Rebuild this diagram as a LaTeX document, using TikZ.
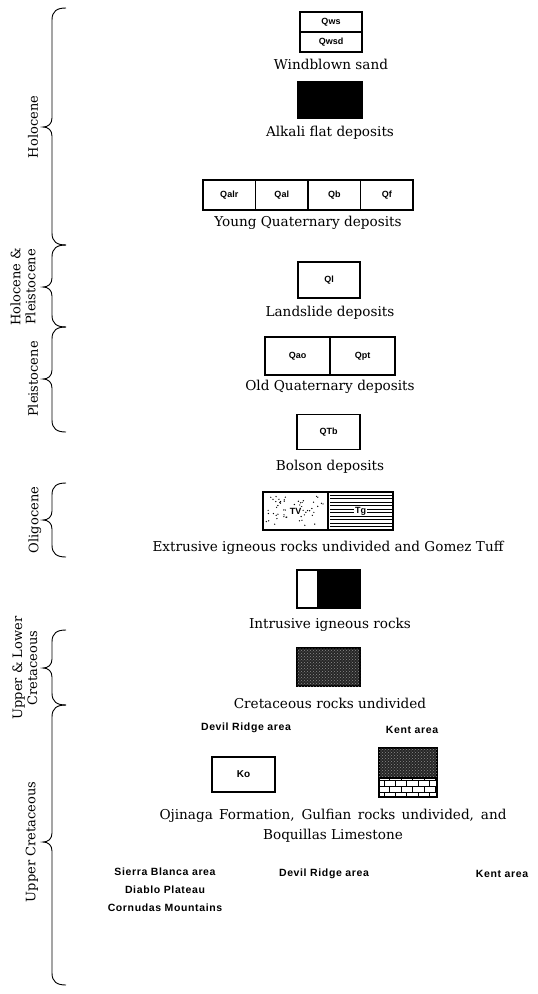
\documentclass[tikz,border=0pt]{standalone}
\usepackage{fontspec}
\setmainfont{DejaVu Serif}
\newfontfamily\lblsans[LetterSpace=6]{Liberation Sans}
\newfontfamily\symsans{Liberation Sans}
\usetikzlibrary{patterns}
\newcommand\gbrace[3]{% top, bottom, tip
  \draw[bline] (66,#1) .. controls (57,#1) and (52,{#1+3}) .. (52,{#1+12})
    -- (52,{#3-9}) .. controls (52,{#3-3}) and (48,#3) .. (43,#3)
    .. controls (48,#3) and (52,{#3+3}) .. (52,{#3+9})
    -- (52,{#2-12}) .. controls (52,{#2-3}) and (57,#2) .. (66,#2);}
\tikzset{
  gbox/.style={draw, line width=1.1pt, inner sep=0pt},
  captxt/.style={font=\fontsize{13.6}{15}\selectfont, inner sep=0pt},
  eralbl/.style={font=\fontsize{13}{15}\selectfont, rotate=90, align=center, inner sep=0pt},
  arealbl/.style={font=\lblsans\bfseries\fontsize{10.5}{12}\selectfont, inner sep=0pt},
  symlbl/.style={font=\symsans\bfseries\fontsize{9}{10}\selectfont},
  bline/.style={line width=0.9pt},
}
\begin{document}
\begin{tikzpicture}[x=1pt,y=-1pt]
\useasboundingbox (0,0) rectangle (538,994);
% ---- braces and era labels
\gbrace{8}{245}{127}
\gbrace{245}{327}{287}
\gbrace{327}{432}{379}
\gbrace{483}{557}{520}
\gbrace{630}{705}{668}
\gbrace{705}{985}{842}
\node[eralbl] (holo) at (33,127) {Holocene};
\node[eralbl] (holopl) at (23,287) {Holocene \&\\Pleistocene};
\node[eralbl] (pleis) at (33,379) {Pleistocene};
\node[eralbl] (olig) at (35,520) {Oligocene};
\node[eralbl] (ulcret) at (25,668) {Upper \& Lower\\Cretaceous};
\node[eralbl] (ucret) at (32,842) {Upper Cretaceous};
% ---- windblown sand
\node[gbox, minimum width=62pt, minimum height=20pt, symlbl] (qws) at (331,22) {Qws};
\node[gbox, minimum width=62pt, minimum height=20pt, symlbl] (qwsd) at (331,42) {Qwsd};
\node[captxt] (c1) at (331,64) {Windblown sand};
% ---- alkali flat
\node[gbox, fill=black, minimum width=64pt, minimum height=36pt] (alk) at (330,100) {};
\node[captxt] (c2) at (330,133) {Alkali flat deposits};
% ---- young quaternary
\node[gbox, minimum width=52.5pt, minimum height=30pt, symlbl] (qalr) at (229.25,195) {Qalr};
\node[gbox, minimum width=52.5pt, minimum height=30pt, symlbl] (qal) at (281.75,195) {Qal};
\node[gbox, minimum width=52.5pt, minimum height=30pt, symlbl] (qb) at (334.25,195) {Qb};
\node[gbox, minimum width=52.5pt, minimum height=30pt, symlbl] (qf) at (386.75,195) {Qf};
\node[captxt] (c3) at (308,223) {Young Quaternary deposits};
% ---- landslide
\node[gbox, minimum width=62pt, minimum height=36pt, symlbl] (ql) at (329,280) {Ql};
\node[captxt] (c4) at (330,313) {Landslide deposits};
% ---- old quaternary
\node[gbox, minimum width=65pt, minimum height=38pt, symlbl] (qao) at (297.5,356) {Qao};
\node[gbox, minimum width=65pt, minimum height=38pt, symlbl] (qpt) at (362.5,356) {Qpt};
\node[captxt] (c5) at (330,387) {Old Quaternary deposits};
% ---- bolson
\node[gbox, minimum width=63pt, minimum height=35pt, symlbl] (qtb) at (328.5,432) {QTb};
\node[captxt] (c6) at (330,467) {Bolson deposits};
% ---- extrusive
\node[gbox, minimum width=65pt, minimum height=38pt] (tv) at (295.5,511) {};
\node[gbox, minimum width=65pt, minimum height=38pt] (tg) at (360.5,511) {};
\pgfmathsetseed{11}
\foreach \i in {1,...,55}{
  \pgfmathsetmacro\px{266+rnd*59}
  \pgfmathsetmacro\py{495+rnd*32}
  \fill (\px,\py) circle (0.7);
}
\foreach \yy in {495,498.5,...,528}{
  \draw[line width=0.5pt] (330,\yy) -- (392,\yy);
}
\node[symlbl, fill=white, inner sep=1pt] (tvl) at (tv.center) {TV};
\node[symlbl, fill=white, inner sep=1pt] (tgl) at (tg.center) {Tg};
\node[captxt] (c7) at (328,548) {Extrusive igneous rocks undivided and Gomez Tuff};
% ---- intrusive
\node[gbox, minimum width=21pt, minimum height=38pt] (intw) at (307.5,589) {};
\node[gbox, fill=black, minimum width=42pt, minimum height=38pt] (intb) at (339,589) {};
\node[captxt] (c8) at (330,625) {Intrusive igneous rocks};
% ---- cretaceous undivided
\node[gbox, fill=black!85, minimum width=63pt, minimum height=38pt,
  postaction={pattern=crosshatch dots, pattern color=black!45}] (kund) at (328.5,667) {};
\node[captxt] (c9) at (330,703) {Cretaceous rocks undivided};
% ---- ojinaga etc.
\node[arealbl] (dr1) at (246,728) {Devil Ridge area};
\node[arealbl] (kt1) at (412,730) {Kent area};
\node[gbox, minimum width=63pt, minimum height=35pt, font=\symsans\bfseries\fontsize{10}{11}\selectfont] (ko) at (243.5,774.5) {Ko};
\node[gbox, fill=black!85, minimum width=58pt, minimum height=30pt,
  postaction={pattern=crosshatch dots, pattern color=black!45}] (kbt) at (408,763) {};
\node[gbox, fill=white, minimum width=58pt, minimum height=19pt,
  postaction={pattern=bricks, pattern color=black}] (kbb) at (408,787.5) {};
\node[captxt] (c10) at (333,816) {\makebox[347pt][s]{Ojinaga Formation, Gulfian rocks undivided, and}};
\node[captxt] (c11) at (333,836) {Boquillas Limestone};
% ---- bottom area labels
\node[arealbl] (sb) at (165,872) {Sierra Blanca area};
\node[arealbl] (dp) at (165,890) {Diablo Plateau};
\node[arealbl] (cm) at (165,908) {Cornudas Mountains};
\node[arealbl] (dr2) at (324,874) {Devil Ridge area};
\node[arealbl] (kt2) at (502,874) {Kent area};
\end{tikzpicture}
\end{document}
